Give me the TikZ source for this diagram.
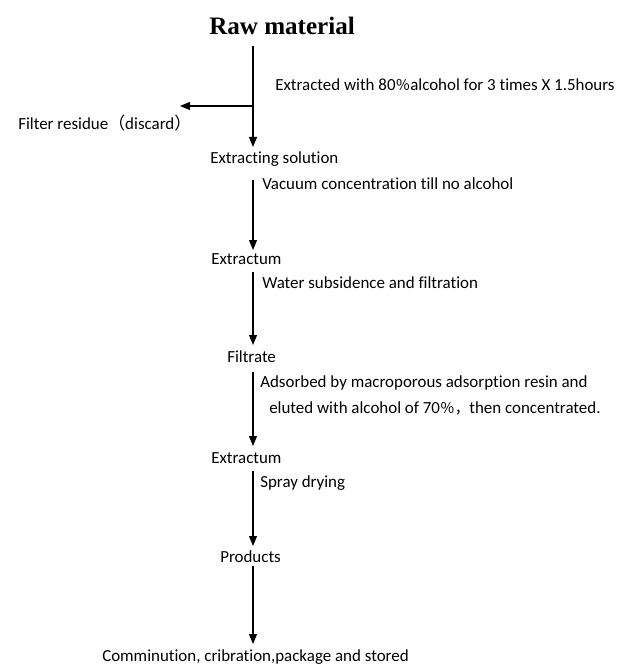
\documentclass[tikz,border=0pt]{standalone}
\usepackage{fontspec}
\setmainfont[Ligatures={NoCommon,NoRare,NoDiscretionary}]{Carlito}
\newfontfamily\titlefont{Liberation Serif}
\newfontfamily\cjk{Noto Sans CJK SC}
\usetikzlibrary{arrows.meta}
\begin{document}
\begin{tikzpicture}[x=0.75pt,y=-0.75pt,
  lbl/.style={anchor=west,inner sep=0pt,font=\fontsize{12.7pt}{15pt}\selectfont},
  arr/.style={line width=0.8pt,-{Triangle[length=7.5pt,width=6pt]}},
  seg/.style={line width=0.8pt}]
\useasboundingbox (0,0) rectangle (619,670);
\node[inner sep=0pt,font=\titlefont\bfseries\fontsize{18.8pt}{22pt}\selectfont] (raw) at (282,26) {Raw material};
\node[lbl] (c1) at (275,85) {Extracted with 80{\cjk\fontsize{11pt}{13pt}\selectfont ％}alcohol for 3 times X 1.5hours};
\node[lbl] (res) at (18,123) {Filter residue{\cjk （}discard{\cjk ）}};
\node[lbl] (sol) at (210,159) {Extracting solution};
\node[lbl] (c2) at (262,184) {Vacuum concentration till no alcohol};
\node[lbl] (ex1) at (211,259) {Extractum};
\node[lbl] (c3) at (262,283) {Water subsidence and filtration};
\node[lbl] (fil) at (227,357) {Filtrate};
\node[lbl] (c4a) at (260,383) {Adsorbed by macroporous adsorption resin and};
\node[lbl] (c4b) at (269,408) {eluted with alcohol of 70{\cjk\fontsize{11pt}{13pt}\selectfont ％，}then concentrated.};
\node[lbl] (ex2) at (211,458) {Extractum};
\node[lbl] (c5) at (260,483) {Spray drying};
\node[lbl] (prod) at (220,557) {Products};
\node[lbl] (fin) at (102,657) {Comminution, cribration,package and stored};
\coordinate (a0) at (253,46);
\coordinate (a1) at (253,147);
\coordinate (b0) at (253,106);
\coordinate (b1) at (180,106);
\coordinate (a2) at (253,180);
\coordinate (a3) at (253,250);
\coordinate (a4) at (253,272);
\coordinate (a5) at (253,345);
\coordinate (a6) at (253,372);
\coordinate (a7) at (253,446);
\coordinate (a8) at (253,471);
\coordinate (a9) at (253,546);
\coordinate (a10) at (253,566);
\coordinate (a11) at (253,644);
\draw[arr] (a0) -- (a1);
\draw[arr] (b0) -- (b1);
\draw[arr] (a2) -- (a3);
\draw[arr] (a4) -- (a5);
\draw[arr] (a6) -- (a7);
\draw[arr] (a8) -- (a9);
\draw[arr] (a10) -- (a11);
\end{tikzpicture}
\end{document}
